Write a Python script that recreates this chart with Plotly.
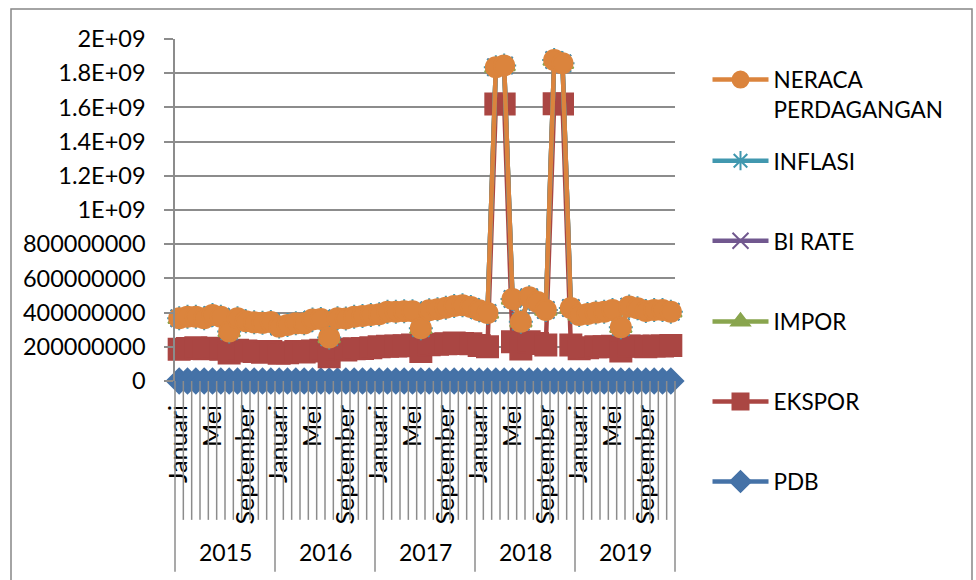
import plotly.graph_objects as go

# ---------------- data ----------------
MONTHS = ["Januari", "Februari", "Maret", "April", "Mei", "Juni", "Juli",
          "Agustus", "September", "Oktober", "November", "Desember"]
YEARS = [2015, 2016, 2017, 2018, 2019]
SHOWN_MONTHS = ["Januari", "Mei", "September"]

# values in millions
EKSPOR = [185, 190, 195, 188, 192, 186, 164, 180, 176, 172, 168, 172,
          162, 165, 172, 170, 176, 180, 142, 185, 182, 188, 190, 195,
          200, 203, 205, 206, 210, 172, 212, 215, 218, 222, 220, 218,
          208, 200, 1620, 1620, 230, 187, 230, 220, 210, 1622, 1620, 210,
          188, 195, 200, 200, 203, 175, 205, 203, 200, 205, 205, 207]
IMPOR = [182, 186, 181, 179, 194, 190, 126, 187, 174, 171, 172, 173,
         156, 162, 165, 167, 184, 183, 113, 182, 183, 188, 190, 191,
         190, 202, 200, 202, 198, 136, 202, 205, 211, 217, 223, 215,
         206, 198, 215, 225, 250, 160, 260, 242, 205, 255, 238, 217,
         198, 197, 200, 205, 212, 139, 230, 222, 210, 210, 210, 198]
# small series (invisible at this scale), raw units
PDB = [2.2, 2.2, 2.2, 2.3, 2.3, 2.3, 2.4, 2.4, 2.4, 2.4, 2.4, 2.4,
       2.4, 2.4, 2.4, 2.5, 2.5, 2.5, 2.5, 2.5, 2.5, 2.5, 2.5, 2.5,
       2.5, 2.5, 2.5, 2.6, 2.6, 2.6, 2.7, 2.7, 2.7, 2.7, 2.7, 2.7,
       2.7, 2.7, 2.7, 2.8, 2.8, 2.8, 2.9, 2.9, 2.9, 2.9, 2.9, 2.9,
       2.9, 2.9, 2.9, 3.0, 3.0, 3.0, 3.1, 3.1, 3.1, 3.1, 3.1, 3.1]
BI_RATE = [7.75, 7.5, 7.5, 7.5, 7.5, 7.5, 7.5, 7.5, 7.5, 7.5, 7.5, 7.5,
           7.25, 7.0, 6.75, 5.5, 5.5, 5.25, 5.25, 5.25, 5.0, 4.75, 4.75, 4.75,
           4.75, 4.75, 4.75, 4.75, 4.75, 4.75, 4.75, 4.5, 4.25, 4.25, 4.25, 4.25,
           4.25, 4.25, 4.25, 4.25, 4.75, 5.25, 5.25, 5.5, 5.75, 5.75, 6.0, 6.0,
           6.0, 6.0, 6.0, 6.0, 6.0, 6.0, 5.75, 5.5, 5.25, 5.0, 5.0, 5.0]
INFLASI = [6.96, 6.29, 6.38, 6.79, 7.15, 7.26, 7.26, 7.18, 6.83, 6.25, 4.89, 3.35,
           4.14, 4.42, 4.45, 3.60, 3.33, 3.45, 3.21, 2.79, 3.07, 3.31, 3.58, 3.02,
           3.49, 3.83, 3.61, 4.17, 4.33, 4.37, 3.88, 3.82, 3.72, 3.58, 3.30, 3.61,
           3.25, 3.18, 3.40, 3.41, 3.23, 3.12, 3.18, 3.20, 2.88, 3.16, 3.23, 3.13,
           2.82, 2.57, 2.48, 2.83, 3.32, 3.28, 3.32, 3.49, 3.39, 3.13, 3.00, 2.72]
NERACA = [0.7, 0.7, 1.1, 0.5, 1.0, 0.5, 1.3, 0.4, 1.0, 1.0, -0.4, -0.2,
          0.1, 1.1, 0.5, 0.7, 0.4, 0.9, 0.6, 0.3, 1.2, 1.2, 0.8, 1.0,
          1.4, 1.3, 1.2, 1.3, 0.5, 1.6, -0.3, 1.7, 1.8, 0.9, 0.1, -0.3,
          -0.8, -0.1, 1.1, -1.6, -1.5, 1.7, -2.0, -1.0, 0.2, -1.8, -2.1, -1.0,
          -1.2, 0.3, 0.7, -2.3, 0.2, 0.2, -0.1, 0.1, -0.1, 0.2, -1.3, -0.3]

Y_TICKVALS = [0, 2e8, 4e8, 6e8, 8e8, 1e9, 1.2e9, 1.4e9, 1.6e9, 1.8e9, 2e9]
Y_TICKTEXT = ["0", "200000000", "400000000", "600000000", "800000000",
              "1E+09", "1.2E+09", "1.4E+09", "1.6E+09", "1.8E+09", "2E+09"]

N = len(YEARS) * len(MONTHS)
x_idx = list(range(N))
month_labels = [m for _ in YEARS for m in MONTHS]
MIL = 1e6

FONT = "Lato, 'Open Sans', sans-serif"
GRID = "#8C8C8C"

series = [
    ("PDB", PDB, "#4572A7", "diamond", 19, "legend6"),
    ("EKSPOR", [v * MIL for v in EKSPOR], "#AA4643", "square", 21, "legend5"),
    ("IMPOR", [v * MIL for v in IMPOR], "#89A54E", "triangle-up", 19, "legend4"),
    ("BI RATE", BI_RATE, "#71588F", "x-thin-open", 17, "legend3"),
    ("INFLASI", INFLASI, "#4198AF", "asterisk-open", 20, "legend2"),
    ("NERACA<br>PERDAGANGAN", NERACA, "#DB843D", "circle", 20, "legend"),
]

fig = go.Figure()
for name, vals, color, sym, size, leg in series:
    fig.add_trace(go.Scatter(
        x=x_idx, y=vals, name=name, mode="lines+markers",
        stackgroup="one", fill="none", cliponaxis=False,
        line=dict(color=color, width=4.5),
        marker=dict(symbol=sym, size=size, color=color,
                    line=dict(color=color, width=2)),
        legend=leg,
    ))

# legends, one per entry, placed like the reference
legend_pos = {"legend": 0.838, "legend2": 0.643, "legend3": 0.409,
              "legend4": 0.173, "legend5": -0.061, "legend6": -0.295}
leg_layout = {}
for key, yp in legend_pos.items():
    leg_layout[key] = dict(
        x=1.065, y=yp, xanchor="left", yanchor="middle",
        font=dict(family=FONT, size=22.5, color="black"),
        bgcolor="rgba(0,0,0,0)", itemwidth=56, valign="top",
        itemclick=False, itemdoubleclick=False,
    )

tick_idx = [i for i, m in enumerate(month_labels) if m in SHOWN_MONTHS]

shapes = []
# category dividers below the axis
for k in range(N + 1):
    bottom = -0.558 if k % len(MONTHS) == 0 else -0.406
    shapes.append(dict(type="line", xref="paper", yref="paper",
                       x0=k / N, x1=k / N, y0=0, y1=bottom,
                       line=dict(color=GRID, width=1.5)))
# outer chart border
shapes.append(dict(type="rect", xref="paper", yref="paper",
                   x0=-0.328, x1=1.594, y0=-0.62, y1=1.088,
                   line=dict(color="#878787", width=1.5)))

annotations = []
for j, yr in enumerate(YEARS):
    annotations.append(dict(
        xref="paper", yref="paper",
        x=(j * len(MONTHS) + len(MONTHS) / 2) / N, y=-0.5,
        text=str(yr), showarrow=False, xanchor="center", yanchor="middle",
        font=dict(family=FONT, size=23, color="black")))

fig.update_layout(
    width=976, height=580,
    margin=dict(l=175, r=301, t=39, b=199, autoexpand=False),
    paper_bgcolor="white", plot_bgcolor="white",
    showlegend=True,
    font=dict(family=FONT, size=22, color="black"),
    shapes=shapes, annotations=annotations,
    hovermode=False,
    **leg_layout,
)
fig.update_xaxes(
    range=[-0.5, N - 0.5], tickmode="array", tickvals=tick_idx,
    ticktext=[month_labels[i] for i in tick_idx], tickangle=-90,
    ticks="", showgrid=False, zeroline=False, showline=False,
    ticklabelstandoff=18,
    tickfont=dict(family=FONT, size=25, color="black"),
)
fig.update_yaxes(
    range=[0, 2e9], tickmode="array", tickvals=Y_TICKVALS, ticktext=Y_TICKTEXT,
    showgrid=True, gridcolor=GRID, gridwidth=1.5,
    showline=True, linecolor=GRID, linewidth=1.5,
    ticks="outside", ticklen=9, tickcolor=GRID, tickwidth=1.5,
    zeroline=False, ticklabelstandoff=14,
    tickfont=dict(family=FONT, size=23.5, color="black"),
)

fig.write_html("out.html", config={"displayModeBar": False},
               post_script="document.body.style.margin='0';")
